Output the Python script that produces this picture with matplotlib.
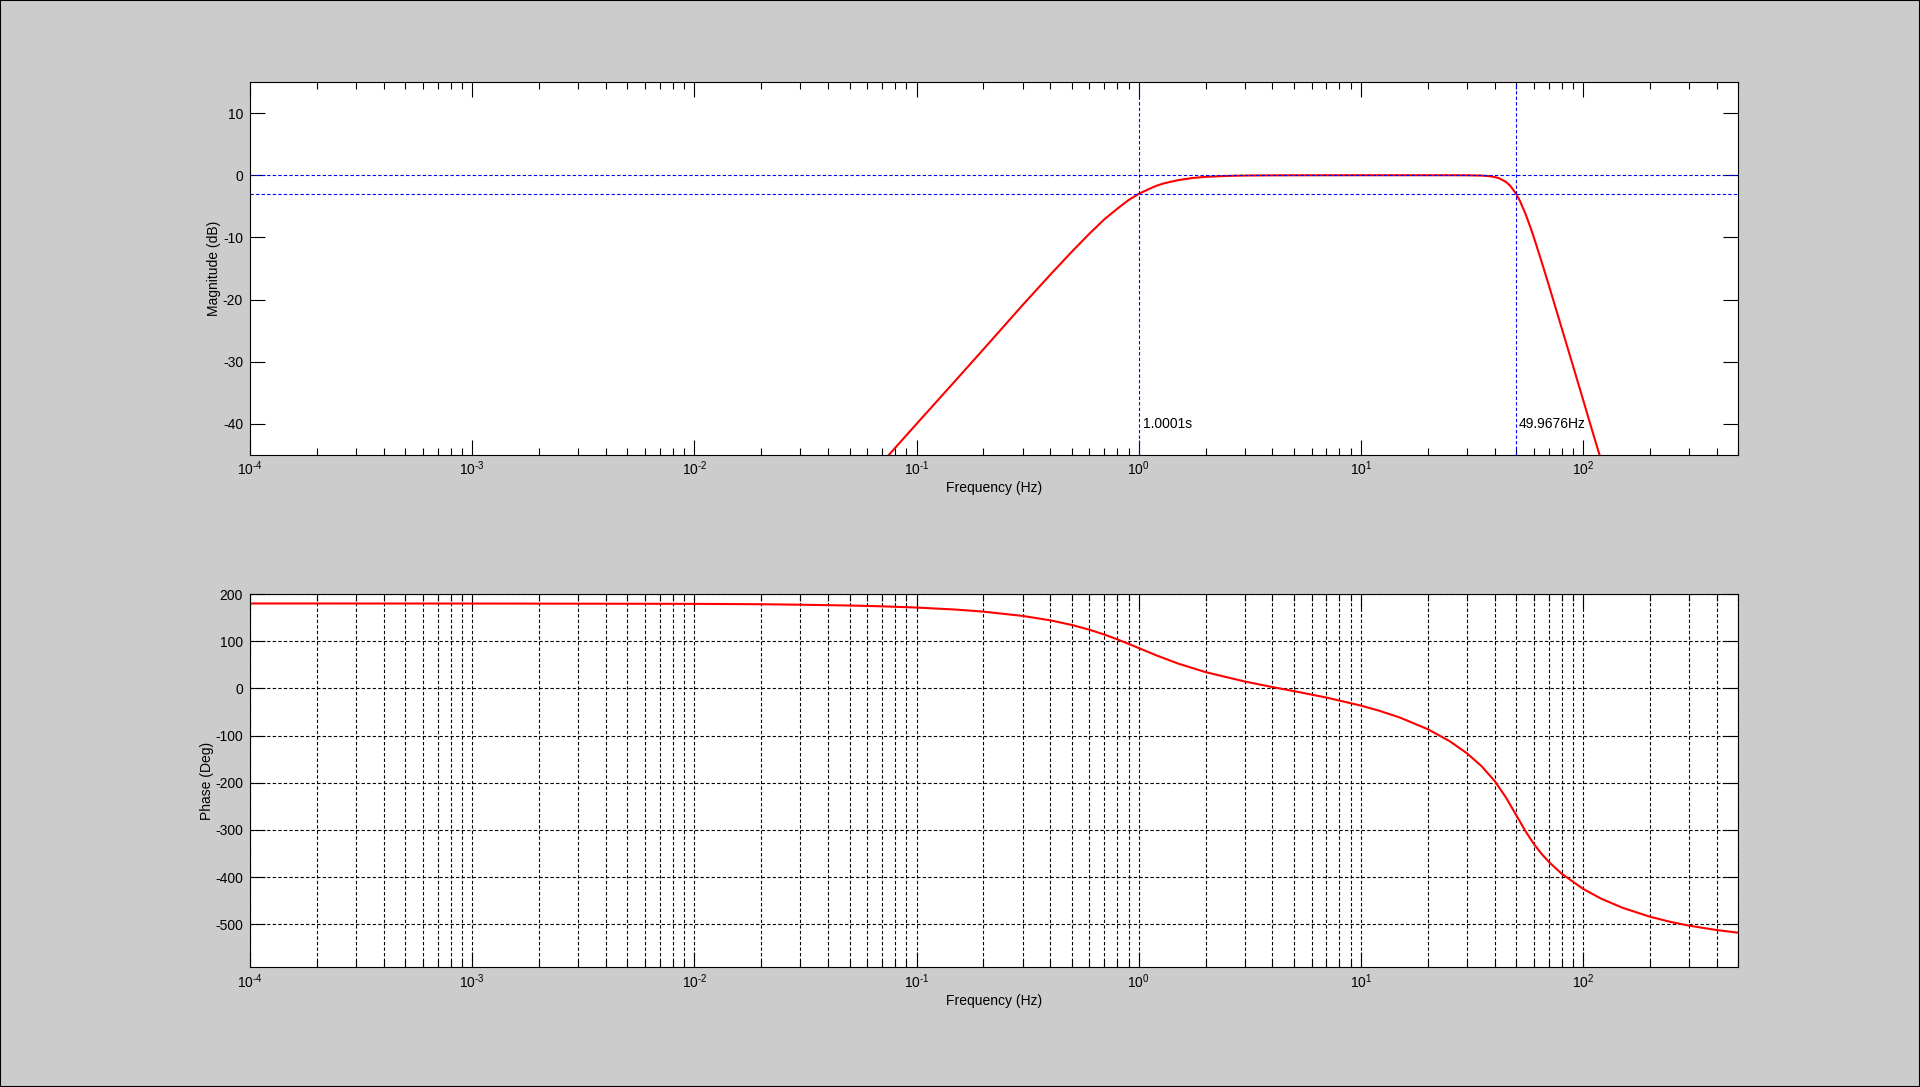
import numpy as np
import matplotlib
matplotlib.use('Agg')
import matplotlib.pyplot as plt
from matplotlib.ticker import LogLocator, NullFormatter, FixedLocator, FuncFormatter
from matplotlib.patches import Rectangle

# Magnitude response
mag_freq = [0.07, 0.1, 0.15, 0.2, 0.3, 0.4, 0.5, 0.6, 0.7, 0.8, 0.9, 1.0, 1.1, 1.2, 1.3,
            1.5, 1.75, 2, 2.5, 3, 4, 5, 10, 20, 25, 30, 35, 38, 40, 42, 45, 47, 50,
            52, 55, 58, 60, 65, 70, 80, 90, 100, 110, 120]
mag_db = [-46.2, -40.0, -33.0, -28.0, -20.9, -16.0, -12.3, -9.4, -7.1, -5.4, -4.0, -3.0, -2.3,
          -1.7, -1.3, -0.8, -0.44, -0.26, -0.11, -0.05, -0.02, -0.01, 0, 0, 0, -0.01, -0.06,
          -0.16, -0.29, -0.5, -1.08, -1.69, -3.0, -4.15, -6.17, -8.41, -9.96, -13.86, -17.6,
          -24.5, -30.6, -36.1, -41.1, -45.6]

# Phase response
phase_freq = [1e-4, 1e-3, 1e-2, 0.02, 0.03, 0.05, 0.07, 0.1, 0.15, 0.2, 0.3, 0.4, 0.5, 0.6,
              0.7, 0.8, 0.9, 1.0, 1.2, 1.5, 2, 3, 4, 5, 7, 10, 12, 15, 20, 25, 30, 35, 40,
              45, 50, 55, 60, 65, 70, 80, 100, 120, 150, 200, 250, 300, 400, 500]
phase_deg = [180.0, 179.9, 179.2, 178.4, 177.4, 175.7, 174.0, 171.4, 167.1, 162.7, 153.7,
             144.3, 134.5, 124.4, 114.2, 104.1, 94.5, 85.6, 70.1, 52.9, 34.5, 14.7, 2.9,
             -5.7, -19.4, -36.4, -46.8, -61.8, -86.4, -111.3, -137.3, -165.2, -196.2,
             -231.3, -268.4, -302.1, -329.3, -350.4, -367.2, -392.4, -424.7, -445.0,
             -464.6, -483.8, -495.2, -502.7, -512.1, -517.7]

# -3 dB cutoff markers
cut_low = 1.0001
cut_high = 49.9676
cut_labels = ['1.0001s', '49.9676Hz']

mag_yticks = [-40, -30, -20, -10, 0, 10]
phase_yticks = [-500, -400, -300, -200, -100, 0, 100, 200]

plt.rcParams['font.family'] = ['Liberation Sans', 'DejaVu Sans']
plt.rcParams['font.size'] = 10
plt.rcParams['mathtext.fontset'] = 'custom'
plt.rcParams['mathtext.rm'] = 'Liberation Sans'
plt.rcParams['mathtext.default'] = 'regular'
plt.rcParams['axes.unicode_minus'] = False

bg = '#cccccc'
fig = plt.figure(figsize=(19.2, 10.87), dpi=100, facecolor=bg)
ax1 = fig.add_axes([0.1302, 0.5814, 0.7752, 0.3432])
ax2 = fig.add_axes([0.1302, 0.1101, 0.7752, 0.3434])

dash = (0, (3, 2))


def decade_label(x, pos):
    n = int(round(np.log10(x)))
    return r'$10^{\text{%d}}$' % n


def style_axis(ax):
    ax.set_xscale('log')
    ax.set_xlim(1e-4, 500)
    ax.xaxis.set_major_locator(LogLocator(base=10, numticks=20))
    ax.xaxis.set_major_formatter(FuncFormatter(decade_label))
    ax.xaxis.set_minor_locator(LogLocator(base=10, subs=np.arange(2, 10), numticks=100))
    ax.xaxis.set_minor_formatter(NullFormatter())
    ax.tick_params(which='both', direction='in', top=True, right=True, width=0.8,
                   colors='black', labelsize=10)
    ax.tick_params(which='major', length=10.5)
    ax.tick_params(axis='x', which='major', pad=3.5)
    ax.tick_params(axis='y', which='major', pad=5)
    ax.tick_params(which='minor', length=5)
    for s in ax.spines.values():
        s.set_linewidth(0.8)
    ax.set_xlabel('Frequency (Hz)', fontsize=10, labelpad=2)


# Upper plot: magnitude
style_axis(ax1)
ax1.plot(mag_freq, mag_db, color='red', lw=1.5)
ax1.axhline(0, color='blue', lw=0.8, linestyle=dash)
ax1.axhline(-3, color='blue', lw=0.8, linestyle=dash)
ax1.axvline(cut_low, color='blue', lw=0.8, linestyle=dash)
ax1.axvline(cut_high, color='blue', lw=0.8, linestyle=dash)
ax1.annotate(cut_labels[0], (cut_low, -40), xytext=(3, 0), textcoords='offset points',
             va='center', ha='left', fontsize=10)
ax1.annotate(cut_labels[1], (cut_high, -40), xytext=(2, 0), textcoords='offset points',
             va='center', ha='left', fontsize=10)
ax1.set_ylim(-45, 15)
ax1.yaxis.set_major_locator(FixedLocator(mag_yticks))
ax1.set_ylabel('Magnitude (dB)', fontsize=10, labelpad=1)

# Lower plot: phase
style_axis(ax2)
ax2.plot(phase_freq, phase_deg, color='red', lw=1.5)
ax2.set_ylim(-591, 200)
ax2.yaxis.set_major_locator(FixedLocator(phase_yticks))
ax2.grid(True, which='both', axis='x', color='black', lw=0.8, linestyle=dash)
ax2.grid(True, which='major', axis='y', color='black', lw=0.8, linestyle=dash)
ax2.set_ylabel('Phase (Deg)', fontsize=10, labelpad=1)

# window frame
fig.patches.append(Rectangle((0, 0), 1, 1, transform=fig.transFigure, fill=False,
                             edgecolor='black', lw=1.5))

fig.savefig('out.png', dpi=100, facecolor=bg)
